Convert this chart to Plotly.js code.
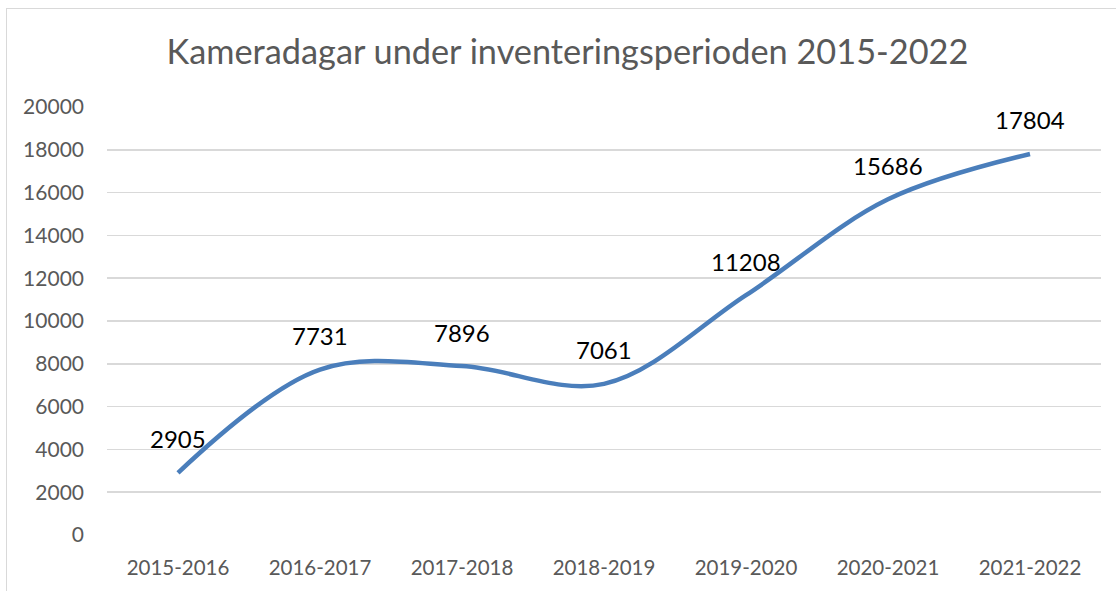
<!DOCTYPE html>
<html>
<head>
<meta charset="utf-8">
<script src="https://cdn.plot.ly/plotly-3.0.1.min.js"></script>
<style>
html,body{margin:0;padding:0;background:#fff;overflow:hidden;}
#frame{position:absolute;left:6px;top:8px;width:1200px;height:700px;border:1px solid #d9d9d9;}
#chart{position:absolute;left:0;top:0;width:1116px;height:591px;}
</style>
</head>
<body>
<div id="frame"></div>
<div id="chart"></div>
<script>
const categories = ["2015-2016","2016-2017","2017-2018","2018-2019","2019-2020","2020-2021","2021-2022"];
const values = [2905, 7731, 7896, 7061, 11208, 15686, 17804];
const yTicks = [0,2000,4000,6000,8000,10000,12000,14000,16000,18000,20000];

const trace = {
  x: categories,
  y: values,
  type: 'scatter',
  mode: 'lines',
  line: {color: '#4a7ebb', width: 4.5, shape: 'spline', smoothing: 1},
  hoverinfo: 'none'
};

const annotations = categories.map((c, i) => ({
  x: c, y: values[i], xref: 'x', yref: 'y',
  text: String(values[i]), showarrow: false,
  yshift: 34,
  font: {family: 'Lato, sans-serif', size: 24, color: '#000'}
}));

const layout = {
  width: 1116, height: 591,
  margin: {l: 107, r: 15, t: 107, b: 56},
  paper_bgcolor: 'rgba(0,0,0,0)',
  plot_bgcolor: 'rgba(0,0,0,0)',
  showlegend: false,
  title: {text: 'Kameradagar under inventeringsperioden 2015-2022',
          font: {family: 'Lato, sans-serif', size: 34.3, color: '#595959'},
          x: 0.5085, xanchor: 'center', y: 0.912, yanchor: 'middle', yref: 'container'},
  xaxis: {type: 'category', range: [-0.5, 6.5], showgrid: false, zeroline: false, showline: false,
          ticks: '', ticklabelstandoff: 18,
          tickfont: {family: 'Lato, sans-serif', size: 20.5, color: '#595959'}},
  yaxis: {range: [0, 20000], tickvals: yTicks, ticktext: yTicks.map(String),
          showgrid: true, gridcolor: '#d9d9d9', gridwidth: 1.5, zeroline: false, showline: false,
          ticks: '', ticklabelstandoff: 22,
          tickfont: {family: 'Lato, sans-serif', size: 21, color: '#595959'}},
  annotations: annotations
};

Plotly.newPlot('chart', [trace], layout, {displayModeBar: false, staticPlot: true});
</script>
</body>
</html>
